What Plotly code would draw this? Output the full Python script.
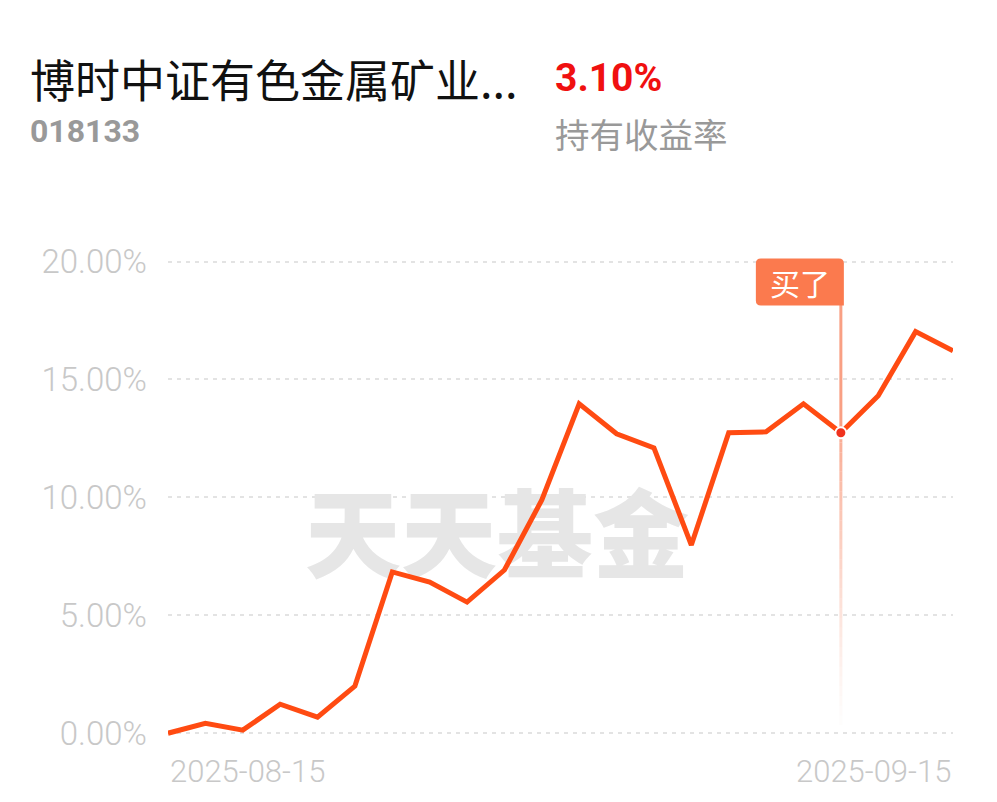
import plotly.graph_objects as go

# ---- data ----
dates = ["2025-08-15", "2025-08-18", "2025-08-19", "2025-08-20", "2025-08-21", "2025-08-22",
         "2025-08-25", "2025-08-26", "2025-08-27", "2025-08-28", "2025-08-29",
         "2025-09-01", "2025-09-02", "2025-09-03", "2025-09-04", "2025-09-05",
         "2025-09-08", "2025-09-09", "2025-09-10", "2025-09-11", "2025-09-12", "2025-09-15"]
returns = [0.00, 0.42, 0.13, 1.23, 0.68, 2.00,
           6.84, 6.41, 5.56, 6.92, 9.89,
           13.97, 12.70, 12.10, 7.98, 12.74,
           12.78, 13.97, 12.74, 14.31, 17.03, 16.22]
buy_date = "2025-09-10"
buy_label = "买了"
y_ticks = [0, 5, 10, 15, 20]
x_tick_labels = [dates[0], dates[-1]]
fund_name = "博时中证有色金属矿业..."
fund_code = "018133"
holding_return = "3.10%"
holding_label = "持有收益率"
watermark = "天天基金"

# ---- styles ----
LINE_COLOR = "#FF4B12"
GRID_COLOR = "#E3E3E3"
TICK_COLOR = "#C8C8C8"
GRAY = "#999999"
BOX_COLOR = "#FB7A4E"
VLINE_COLOR = "#F9A084"

xs = list(range(len(dates)))
buy_i = dates.index(buy_date)
buy_v = returns[buy_i]

fig = go.Figure()

# watermark (drawn first so it sits under the line)
fig.add_trace(go.Scatter(
    x=[8.8], y=[7.95], mode="text", text=[watermark],
    textfont=dict(family="Noto Sans CJK SC", size=96, color="#E6E6E6", weight=900),
    hoverinfo="skip", showlegend=False))

fig.add_trace(go.Scatter(
    x=xs, y=returns, mode="lines",
    line=dict(color=LINE_COLOR, width=5),
    hoverinfo="skip", showlegend=False))

fig.add_trace(go.Scatter(
    x=[buy_i], y=[buy_v], mode="markers",
    marker=dict(color="#F0321E", size=11, line=dict(color="white", width=2)),
    hoverinfo="skip", showlegend=False, cliponaxis=False))

shapes = []
# vertical line from point up to label box
shapes.append(dict(type="line", xref="x", yref="y", x0=buy_i, x1=buy_i, y0=buy_v, y1=y_ticks[-1],
                   line=dict(color=VLINE_COLOR, width=3), layer="between"))
# fading part below point
n = 30
bottom = 0.35
for k in range(n):
    ya = buy_v - (buy_v - bottom) * k / n
    yb = buy_v - (buy_v - bottom) * (k + 1) / n
    op = 0.85 * (1 - k / n) ** 1.2
    shapes.append(dict(type="line", xref="x", yref="y", x0=buy_i, x1=buy_i, y0=ya, y1=yb,
                       line=dict(color=VLINE_COLOR, width=3), opacity=op, layer="between"))
# label box (pixel-sized, anchored at buy index / top tick)
x0, x1, y0, y1, r = -85, 3, -44, 3, 5
path = (f"M {x0 + r},{y1} L {x1 - r},{y1} Q {x1},{y1} {x1},{y1 - r} L {x1},{y0} "
        f"L {x0 + r},{y0} Q {x0},{y0} {x0},{y0 + r} L {x0},{y1 - r} Q {x0},{y1} {x0 + r},{y1} Z")
shapes.append(dict(type="path", xref="x", yref="y", xsizemode="pixel", ysizemode="pixel",
                   xanchor=buy_i, yanchor=y_ticks[-1], path=path,
                   fillcolor=BOX_COLOR, line=dict(width=0), layer="above"))

annotations = [
    dict(x=buy_i, y=y_ticks[-1], xref="x", yref="y", text=buy_label, showarrow=False,
         xshift=-41, yshift=-20, font=dict(family="Noto Sans CJK SC", size=30, color="white")),
    dict(x=0, y=0, xref="x", yref="paper", text=x_tick_labels[0], showarrow=False,
         xanchor="left", yanchor="middle", yshift=-26, xshift=0,
         font=dict(family="Roboto", size=31, color=TICK_COLOR, weight=300)),
    dict(x=len(dates) - 1, y=0, xref="x", yref="paper", text=x_tick_labels[1], showarrow=False,
         xanchor="right", yanchor="middle", yshift=-26,
         font=dict(family="Roboto", size=31, color=TICK_COLOR, weight=300)),
    dict(x=0, y=1, xref="paper", yref="paper", text=fund_name, showarrow=False,
         xanchor="left", yanchor="middle", xshift=-140, yshift=160,
         font=dict(family="Noto Sans CJK SC", size=45, color="#111111")),
    dict(x=0, y=1, xref="paper", yref="paper", text=f"<b>{holding_return}</b>", showarrow=False,
         xanchor="left", yanchor="middle", xshift=385, yshift=160,
         font=dict(family="Roboto", size=39, color="#F01010")),
    dict(x=0, y=1, xref="paper", yref="paper", text=f"<b>{fund_code}</b>", showarrow=False,
         xanchor="left", yanchor="middle", xshift=-140, yshift=107,
         font=dict(family="Roboto", size=32, color=GRAY)),
    dict(x=0, y=1, xref="paper", yref="paper", text=holding_label, showarrow=False,
         xanchor="left", yanchor="middle", xshift=385, yshift=105,
         font=dict(family="Noto Sans CJK SC", size=34.5, color=GRAY)),
]

fig.update_layout(
    width=989, height=794,
    margin=dict(l=160, r=44, t=230, b=57),
    paper_bgcolor="white", plot_bgcolor="white",
    shapes=shapes, annotations=annotations,
    showlegend=False,
    xaxis=dict(range=[0, len(dates) - 1], showgrid=False, zeroline=False, showticklabels=False,
               showline=False, fixedrange=True),
    yaxis=dict(range=[-0.5, 21], tickvals=y_ticks, ticktext=[f"{v:.2f}%" for v in y_ticks],
               showgrid=True, gridcolor=GRID_COLOR, gridwidth=1.5, griddash="4px,5px",
               zeroline=False, showline=False, ticks="", ticklabelstandoff=20,
               tickfont=dict(family="Roboto", size=33, color=TICK_COLOR, weight=300),
               fixedrange=True),
)

fig.write_html("out.html", config={"displayModeBar": False})
